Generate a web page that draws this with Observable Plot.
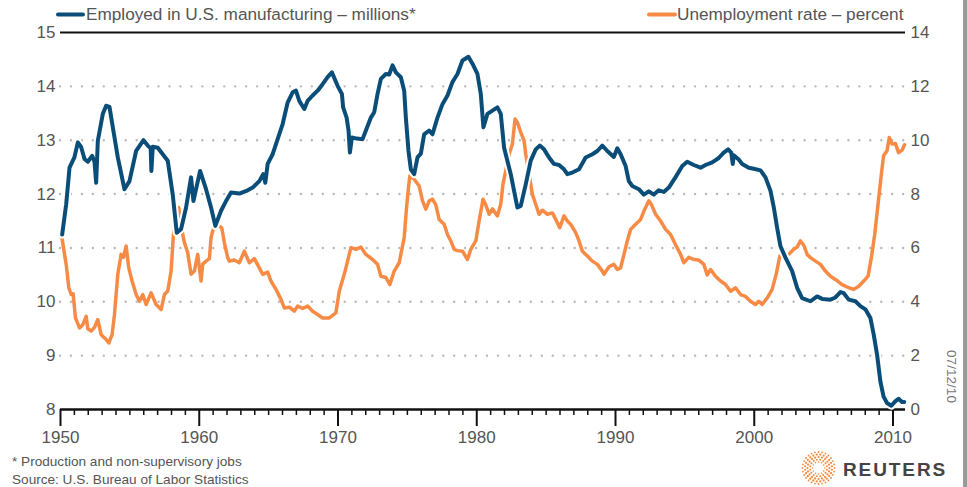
<!DOCTYPE html>
<html><head><meta charset="utf-8">
<script src="https://cdn.jsdelivr.net/npm/d3@7"></script>
<script src="https://cdn.jsdelivr.net/npm/@observablehq/plot@0.6"></script>
<style>
body{margin:0;background:#fff;}
#wrap{position:relative;width:967px;height:487px;overflow:hidden;font-family:"Liberation Sans",Arial,sans-serif;}
</style></head><body><div id="wrap"></div>
<script>
// Employed in U.S. manufacturing (millions, production jobs)
const mfgYears = [1950.12,1950.41,1950.65,1951.0,1951.25,1951.49,1951.73,1951.97,1952.28,1952.45,1952.57,1952.69,1953.05,1953.29,1953.53,1953.77,1954.13,1954.61,1954.97,1955.45,1955.98,1956.29,1956.5,1956.55,1956.65,1957.01,1957.37,1957.73,1958.09,1958.38,1958.69,1959.05,1959.41,1959.58,1960.06,1960.49,1960.85,1961.16,1961.57,1961.93,1962.29,1962.89,1963.49,1963.85,1964.33,1964.61,1964.76,1964.93,1965.29,1965.65,1966.01,1966.37,1966.73,1966.97,1967.21,1967.57,1967.81,1968.17,1968.53,1968.89,1969.25,1969.56,1969.97,1970.28,1970.37,1970.62,1970.76,1970.86,1971.0,1971.36,1971.77,1972.01,1972.37,1972.61,1972.85,1973.09,1973.45,1973.69,1973.93,1974.17,1974.53,1974.77,1974.89,1975.08,1975.25,1975.49,1975.73,1975.97,1976.21,1976.57,1976.81,1977.17,1977.53,1977.89,1978.25,1978.61,1978.97,1979.4,1979.69,1980.05,1980.29,1980.48,1980.77,1981.13,1981.49,1981.73,1981.97,1982.45,1982.93,1983.17,1983.53,1983.89,1984.25,1984.54,1984.85,1985.21,1985.57,1985.93,1986.29,1986.53,1986.89,1987.37,1987.85,1988.33,1988.69,1989.05,1989.41,1989.88,1990.13,1990.37,1990.73,1990.96,1991.21,1991.68,1992.04,1992.4,1992.76,1993.12,1993.48,1993.84,1994.32,1994.81,1995.17,1995.64,1996.13,1996.49,1996.97,1997.44,1997.8,1998.12,1998.34,1998.45,1998.52,1998.88,1999.13,1999.6,1999.96,2000.45,2000.81,2001.17,2001.41,2001.65,2001.89,2002.25,2002.73,2003.09,2003.45,2004.05,2004.53,2004.93,2005.49,2005.85,2006.21,2006.45,2006.81,2007.29,2007.65,2008.01,2008.37,2008.61,2008.85,2009.09,2009.32,2009.57,2009.88,2010.16,2010.4,2010.65,2010.81];
const mfgValues = [11.25,11.81,12.49,12.68,12.96,12.87,12.65,12.6,12.71,12.6,12.21,12.99,13.49,13.64,13.62,13.24,12.68,12.09,12.24,12.8,13.0,12.9,12.85,12.43,12.88,12.86,12.74,12.62,11.99,11.28,11.35,11.75,12.31,11.87,12.43,12.09,11.75,11.41,11.69,11.87,12.03,12.01,12.07,12.12,12.24,12.37,12.21,12.56,12.74,13.02,13.3,13.7,13.89,13.92,13.73,13.58,13.73,13.83,13.92,14.04,14.17,14.26,14.01,13.86,13.61,13.42,13.18,12.77,13.05,13.03,13.02,13.18,13.42,13.52,13.86,14.14,14.23,14.22,14.39,14.26,14.17,13.92,13.42,12.8,12.46,12.37,12.68,12.75,13.11,13.18,13.11,13.42,13.67,13.83,14.08,14.23,14.48,14.55,14.42,14.23,13.86,13.24,13.49,13.55,13.61,13.49,12.86,12.37,11.75,11.78,12.18,12.62,12.83,12.9,12.83,12.68,12.56,12.54,12.46,12.37,12.4,12.46,12.68,12.74,12.8,12.9,12.8,12.69,12.85,12.74,12.52,12.24,12.15,12.09,11.99,12.05,11.99,12.07,12.04,12.12,12.31,12.52,12.6,12.54,12.49,12.54,12.59,12.67,12.77,12.83,12.77,12.56,12.72,12.64,12.56,12.49,12.47,12.44,12.31,12.06,11.75,11.37,11.03,10.82,10.57,10.26,10.07,10.01,10.1,10.05,10.04,10.08,10.18,10.16,10.04,10.01,9.92,9.86,9.7,9.39,9.02,8.52,8.24,8.12,8.07,8.15,8.2,8.14,8.14];

// Unemployment rate (percent)
const unempYears = [1950.12,1950.29,1950.41,1950.6,1950.77,1950.91,1951.08,1951.37,1951.61,1951.85,1951.97,1952.21,1952.45,1952.69,1952.93,1953.29,1953.48,1953.72,1953.89,1954.13,1954.37,1954.54,1954.73,1954.92,1955.16,1955.45,1955.69,1955.93,1956.17,1956.53,1956.89,1957.25,1957.49,1957.73,1957.97,1958.14,1958.52,1958.81,1958.93,1959.17,1959.41,1959.65,1959.89,1960.13,1960.25,1960.49,1960.73,1960.85,1960.97,1961.14,1961.62,1961.81,1962.05,1962.17,1962.53,1962.89,1963.25,1963.61,1963.97,1964.33,1964.57,1964.93,1965.17,1965.53,1965.89,1966.13,1966.49,1966.85,1967.09,1967.45,1967.81,1968.17,1968.53,1968.89,1969.37,1969.85,1970.09,1970.45,1970.69,1970.93,1971.29,1971.65,1972.01,1972.49,1972.85,1973.09,1973.45,1973.74,1974.05,1974.41,1974.77,1974.94,1975.08,1975.18,1975.49,1975.85,1976.09,1976.33,1976.57,1976.81,1977.05,1977.29,1977.65,1977.89,1978.13,1978.37,1978.61,1978.97,1979.33,1979.57,1979.93,1980.17,1980.45,1980.65,1980.89,1981.13,1981.49,1981.73,1981.89,1982.09,1982.33,1982.57,1982.76,1982.93,1983.17,1983.41,1983.53,1983.77,1984.01,1984.25,1984.49,1984.73,1985.09,1985.45,1985.69,1985.98,1986.29,1986.53,1986.77,1987.13,1987.37,1987.61,1987.97,1988.33,1988.69,1989.05,1989.17,1989.53,1989.88,1990.13,1990.37,1990.61,1990.85,1991.09,1991.45,1991.81,1992.05,1992.4,1992.6,1992.89,1993.25,1993.61,1993.97,1994.32,1994.69,1994.92,1995.28,1995.64,1996.0,1996.37,1996.61,1996.85,1997.21,1997.57,1997.93,1998.29,1998.65,1999.01,1999.37,1999.73,2000.09,2000.32,2000.57,2000.93,2001.29,2001.58,2001.84,2002.13,2002.49,2002.84,2003.09,2003.33,2003.57,2003.81,2004.05,2004.41,2004.77,2005.13,2005.49,2005.85,2006.33,2006.81,2007.17,2007.53,2007.89,2008.2,2008.44,2008.68,2008.92,2009.16,2009.32,2009.57,2009.73,2009.93,2010.17,2010.4,2010.65,2010.83];
const unempValues = [6.32,5.76,5.39,4.52,4.27,4.3,3.4,3.03,3.15,3.46,3.0,2.91,3.05,3.34,2.78,2.6,2.47,2.78,3.53,5.02,5.76,5.65,6.07,5.26,4.77,4.27,4.02,4.27,3.9,4.33,3.9,3.71,4.27,4.4,5.14,6.5,7.5,6.5,6.2,5.82,5.02,5.14,5.76,4.77,5.4,5.51,5.6,6.38,6.63,6.9,6.75,6.2,5.64,5.51,5.55,5.45,5.88,5.45,5.6,5.26,5.02,5.1,4.77,4.46,4.09,3.77,3.8,3.65,3.84,3.75,3.84,3.65,3.53,3.4,3.4,3.59,4.39,5.02,5.51,6.01,5.95,6.03,5.76,5.57,5.39,4.95,4.9,4.64,5.14,5.45,6.38,7.5,8.24,8.68,8.55,8.3,7.75,7.44,7.75,7.81,7.6,7.06,6.88,6.5,6.26,5.95,5.9,5.88,5.57,5.95,6.26,7.0,7.81,7.6,7.25,7.45,7.19,7.62,8.37,8.86,9.48,9.86,10.79,10.67,10.29,9.98,9.48,8.74,7.99,7.62,7.25,7.4,7.25,7.3,7.06,6.75,7.19,7.0,6.88,6.57,6.26,5.88,5.7,5.51,5.39,5.14,5.02,5.3,5.39,5.2,5.26,5.76,6.26,6.69,6.88,7.06,7.37,7.75,7.6,7.25,7.0,6.69,6.5,6.13,5.76,5.45,5.65,5.57,5.55,5.39,5.0,5.2,4.95,4.77,4.64,4.39,4.52,4.27,4.2,4.02,3.9,4.02,3.9,4.14,4.46,5.02,5.7,5.7,5.76,5.95,6.03,6.26,6.1,5.76,5.64,5.51,5.39,5.14,4.95,4.83,4.64,4.52,4.46,4.58,4.77,4.95,5.64,6.5,7.62,8.74,9.42,9.61,10.1,9.86,9.88,9.54,9.63,9.83];

const leftTicks = [8, 9, 10, 11, 12, 13, 14, 15];
const rightTickLabels = ["0", "2", "4", "6", "8", "10", "12", "14"];
const gridTicks = [9, 10, 11, 12, 13, 14];
const majorYears = [1950, 1960, 1970, 1980, 1990, 2000, 2010];
const minorYears = d3.range(1951, 2011).filter(y => y % 10 !== 0);
const legendLabels = ["Employed in U.S. manufacturing – millions*", "Unemployment rate – percent"];
const notes = ["* Production and non-supervisory jobs", "Source: U.S. Bureau of Labor Statistics"];
const dateStamp = "07/12/10";
const brand = "REUTERS";

const BLUE = "#0a4d79", ORANGE = "#f78b45";
const mfg = mfgYears.map((x, i) => ({x, y: mfgValues[i]}));
// unemployment rate plotted against the right axis: 0..14 maps onto 8..15
const unemp = unempYears.map((x, i) => ({x, y: 8 + unempValues[i] / 2}));

const chart = Plot.plot({
  width: 967, height: 487,
  marginLeft: 60, marginRight: 62, marginTop: 32, marginBottom: 78,
  style: {fontFamily: '"Liberation Sans", Arial, sans-serif', fontSize: "17px", background: "transparent", overflow: "visible"},
  x: {domain: [1950, 2010.9], axis: null, label: null},
  y: {domain: [8, 15], axis: null, label: null},
  marks: [
    Plot.ruleY(gridTicks, {stroke: "#b8b8b8", strokeWidth: 2.4, strokeDasharray: "0,10.95", strokeLinecap: "round"}),
    Plot.ruleY([15], {stroke: "#111", strokeWidth: 2.2}),
    Plot.axisX(minorYears, {tickSize: 6, tickFormat: () => "", stroke: "#111", strokeWidth: 1.5, label: null}),
    Plot.axisX(majorYears, {tickSize: 17, tickPadding: 4, tickFormat: d => String(d), stroke: "#111", strokeWidth: 2, color: "#555", fontSize: 17, label: null}),
    Plot.ruleY([8], {stroke: "#111", strokeWidth: 2.5}),
    Plot.axisY(leftTicks, {anchor: "left", tickSize: 0, tickPadding: 5, tickFormat: d => String(d), color: "#555", fontSize: 17, label: null}),
    Plot.axisY(leftTicks, {anchor: "right", tickSize: 0, tickPadding: 5, tickFormat: d => rightTickLabels[leftTicks.indexOf(d)], color: "#555", fontSize: 17, label: null}),
    Plot.line(unemp, {x: "x", y: "y", stroke: ORANGE, strokeWidth: 3.5, strokeLinejoin: "round"}),
    Plot.line(mfg, {x: "x", y: "y", stroke: "#fff", strokeWidth: 8, strokeLinejoin: "round"}),
    Plot.line(mfg, {x: "x", y: "y", stroke: BLUE, strokeWidth: 4, strokeLinejoin: "round"})
  ]
});
document.getElementById("wrap").appendChild(chart);

const svg = d3.select(chart);
const font = '"Liberation Sans", Arial, sans-serif';
// legend
const leg = [{x0: 58, x1: 83, tx: 86, color: BLUE, label: legendLabels[0]},
             {x0: 649, x1: 675, tx: 677, color: ORANGE, label: legendLabels[1]}];
leg.forEach(l => {
  svg.append("line").attr("x1", l.x0).attr("x2", l.x1).attr("y1", 14.5).attr("y2", 14.5)
    .attr("stroke", l.color).attr("stroke-width", 4).attr("stroke-linecap", "round");
  svg.append("text").attr("x", l.tx).attr("y", 20).attr("fill", "#555").attr("text-anchor", "start")
    .style("font-family", font).style("font-size", "17.2px").text(l.label);
});
// notes
notes.forEach((t, i) => {
  svg.append("text").attr("x", 12).attr("y", 465.5 + i * 18).attr("fill", "#555").attr("text-anchor", "start")
    .style("font-family", font).style("font-size", "13.6px").text(t);
});
// date stamp (rotated)
svg.append("text").attr("transform", "translate(951,376.5) rotate(90)")
  .attr("text-anchor", "middle").attr("dominant-baseline", "central").attr("fill", "#777")
  .style("font-family", font).style("font-size", "13.6px").text(dateStamp);
// Reuters logo
const g = svg.append("g").attr("transform", "translate(818.5,468)");
[[6, 12, 0.8], [8.5, 16, 1.0], [11, 20, 1.1], [13.5, 24, 1.1], [16, 28, 0.9]].forEach(([r, n, s], j) => {
  for (let k = 0; k < n; k++) {
    const a = (k + (j % 2) * 0.5) / n * 2 * Math.PI;
    g.append("circle").attr("cx", r * Math.cos(a)).attr("cy", r * Math.sin(a)).attr("r", s).attr("fill", "#f58a3c");
  }
});
svg.append("text").attr("x", 843).attr("y", 475.5).attr("fill", "#444").attr("text-anchor", "start")
  .style("font-family", font).style("font-size", "19px").style("font-weight", "bold").style("letter-spacing", "1.9px").text(brand);
// right border
svg.append("rect").attr("x", 963).attr("y", 0).attr("width", 4).attr("height", 487).attr("fill", "#9a9a9a");
</script>
</body></html>
